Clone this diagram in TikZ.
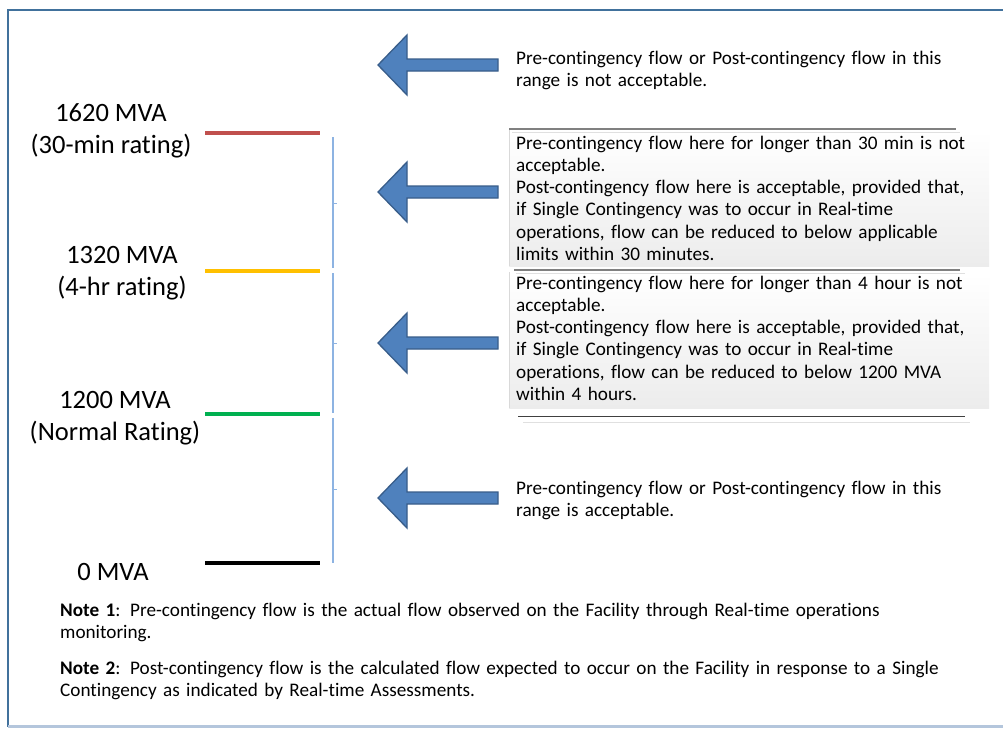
\documentclass[tikz,border=0pt]{standalone}
\usepackage{fontspec}
\setmainfont{Carlito}[Ligatures=NoCommon]
\definecolor{framec}{HTML}{41719C}
\definecolor{framelight}{HTML}{B4C6DC}
\definecolor{arrowfill}{HTML}{4F81BD}
\definecolor{arrowedge}{HTML}{385D8A}
\definecolor{bracketc}{HTML}{8DB3E2}
\definecolor{lvred}{HTML}{C0504D}
\definecolor{lvyellow}{HTML}{FFC000}
\definecolor{lvgreen}{HTML}{00B050}
\definecolor{boxgray}{HTML}{ECECEC}
\begin{document}
\begin{tikzpicture}[x=1pt,y=-1pt,
  frame/.style={draw=framec,line width=2.6pt},
  blockarrow/.style={fill=arrowfill,draw=arrowedge,line width=1.3pt,line join=miter},
  level/.style={line width=3.2pt},
  bracket/.style={draw=bracketc,line width=2.4pt},
  lbl/.style={font=\fontsize{26.5}{32}\selectfont,align=center,inner sep=0pt},
  txt/.style={font=\fontsize{19.2}{22.3}\selectfont,anchor=base west,inner sep=0pt,text width=500pt,align=left},
  sep/.style={line width=1.5pt,draw=black!50},
  faint/.style={line width=0.8pt,draw=black!12}]
\useasboundingbox (0,0) rectangle (1003,728);
\clip (0,0) rectangle (1003,728);
\fill[white] (0,0) rectangle (1003,728);
\draw[frame] (1015,10) -- (8,10) -- (8,726.5);
\draw[draw=framelight,line width=2.6pt] (8,726.5) -- (1015,726.5);
% shaded text boxes
\shade[top color=white,bottom color=boxgray] (509,131) rectangle (989,266);
\shade[top color=white,bottom color=boxgray] (509,274) rectangle (989,408);
\draw[draw=black!15,line width=0.6pt] (509,129) -- (509,266);
\draw[draw=black!15,line width=0.6pt] (509,272) -- (509,408);
% separator lines
\draw[sep] (509,129) -- (956,129);
\draw[faint] (512,132.5) -- (960,132.5);
\draw[sep] (514,270) -- (960,270);
\draw[faint] (516,273.5) -- (965,273.5);
\draw[line width=1pt,draw=black!75] (518,416) -- (965,416);
\draw[faint] (523,422) -- (970,422);
% levels
\draw[level,lvred] (205,133) -- (320,133);
\draw[level,lvyellow] (205,271) -- (320,271);
\draw[level,lvgreen] (205,414) -- (320,414);
\draw[level,black,line width=4pt] (205,563) -- (320,563);
% bracket
\draw[bracket] (333,137) -- (333,268);
\draw[bracket] (333,273) -- (333,413);
\draw[bracket] (333,418) -- (333,563);
\foreach \t in {203,343,489} \draw[bracket,line width=1pt] (333,\t) -- (337,\t);
% arrows
\foreach \c in {65,192,343,498}
  \draw[blockarrow] (378,\c) -- (407,\c-30) -- (407,\c-6) -- (498,\c-6) -- (498,\c+6) -- (407,\c+6) -- (407,\c+30) -- cycle;
% left labels
\node[lbl] (l1620) at (111,131) {1620 MVA\\(30-min rating)};
\node[lbl] (l1320) at (122,273) {1320 MVA\\(4-hr rating)};
\node[lbl] (l1200) at (115,418) {1200 MVA\\(Normal Rating)};
\node[lbl] (l0) at (113,572) {0 MVA};
% right texts
\node[txt] (t1) at (516,64) {Pre-contingency flow or Post-contingency flow in this\\range is not acceptable.};
\node[txt] (t2) at (516,149) {Pre-contingency flow here for longer than 30 min is not\\acceptable.\\Post-contingency flow here is acceptable, provided that,\\if Single Contingency was to occur in Real-time\\operations, flow can be reduced to below applicable\\limits within 30 minutes.};
\node[txt] (t3) at (516,289) {Pre-contingency flow here for longer than 4 hour is not\\acceptable.\\Post-contingency flow here is acceptable, provided that,\\if Single Contingency was to occur in Real-time\\operations, flow can be reduced to below 1200 MVA\\within 4 hours.};
\node[txt] (t4) at (516,494) {Pre-contingency flow or Post-contingency flow in this\\range is acceptable.};
% notes
\node[txt,text width=950pt] (n1) at (60,616) {\textbf{Note 1}: Pre-contingency flow is the actual flow observed on the Facility through Real-time operations\\monitoring.};
\node[txt,text width=950pt] (n2) at (60,674) {\textbf{Note 2}: Post-contingency flow is the calculated flow expected to occur on the Facility in response to a Single\\Contingency as indicated by Real-time Assessments.};
\end{tikzpicture}
\end{document}
